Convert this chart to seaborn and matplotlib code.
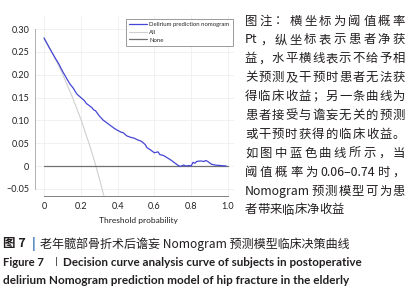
import re
import matplotlib
matplotlib.use("Agg")
import matplotlib.pyplot as plt
import pandas as pd
import seaborn as sns

# ---- data ----
thr_model = [0.00, 0.03, 0.06, 0.08, 0.10, 0.12, 0.14, 0.16, 0.17, 0.18, 0.20, 0.22,
             0.23, 0.25, 0.26, 0.27, 0.28, 0.30, 0.32, 0.34, 0.36, 0.38, 0.40, 0.42,
             0.43, 0.45, 0.47, 0.49, 0.51, 0.53, 0.55, 0.56, 0.58, 0.60, 0.62, 0.63,
             0.65, 0.67, 0.69, 0.71, 0.73, 0.74, 0.76, 0.77, 0.79, 0.80, 0.81, 0.82,
             0.83, 0.85, 0.87, 0.88, 0.89, 0.90, 0.91, 0.93, 0.96, 0.99]
nb_model = [0.280, 0.258, 0.237, 0.224, 0.208, 0.194, 0.180, 0.170, 0.163, 0.157, 0.150, 0.143,
            0.137, 0.131, 0.128, 0.123, 0.121, 0.110, 0.101, 0.095, 0.089, 0.083, 0.078, 0.074,
            0.073, 0.066, 0.063, 0.061, 0.057, 0.054, 0.047, 0.040, 0.035, 0.029, 0.031, 0.025,
            0.023, 0.018, 0.013, 0.007, 0.001, -0.001, 0.002, 0.000, 0.001, 0.000, 0.008, 0.006,
            0.010, 0.011, 0.010, 0.012, 0.010, 0.007, 0.004, 0.002, 0.001, 0.000]

thr_all = [0.00, 0.05, 0.10, 0.15, 0.20, 0.25, 0.28, 0.30, 0.33, 0.35]
nb_all = [0.282, 0.244, 0.202, 0.155, 0.103, 0.043, 0.003, -0.026, -0.072, -0.105]

thr_none = [0.0, 1.0]
nb_none = [0.0, 0.0]

series_names = ["Delirium prediction nomogram", "All", "None"]
series_colors = {"Delirium prediction nomogram": "#4646d6", "All": "#cfcfcf", "None": "#707070"}

x_ticks = [0, 0.2, 0.4, 0.6, 0.8, 1.0]
x_ticklabels = ["0", "0.2", "0.4", "0.6", "0.8", "1.0"]
y_ticks = [-0.05, 0, 0.05, 0.10, 0.15, 0.20, 0.25, 0.30]
y_ticklabels = ["\u22120.05", "0", "0.05", "0.10", "0.15", "0.20", "0.25", "0.30"]

note_lines = [
    "图注：横坐标为阈值概率",
    "Pt，纵坐标表示患者净获",
    "益，水平横线表示不给予相",
    "关预测及干预时患者无法获",
    "得临床收益；另一条曲线为",
    "患者接受与谵妄无关的预测",
    "或干预时获得的临床收益。",
    "如图中蓝色曲线所示，当",
    "阈值概率为 0.06–0.74 时，",
    "Nomogram 预测模型可为患",
    "者带来临床净收益",
]
cap_cn = "老年髋部骨折术后谵妄 Nomogram 预测模型临床决策曲线"
cap_en1 = "Decision curve analysis curve of subjects in postoperative"
cap_en2 = "delirium Nomogram prediction model of hip fracture in the elderly"

# ---- style ----
sns.set_style("white")
plt.rcParams["font.family"] = ["Lato", "DejaVu Sans"]
CN = ["Noto Sans CJK SC", "DejaVu Sans"]
INK = "#231f20"

W, H = 410, 300
fig = plt.figure(figsize=(W / 100, H / 100), dpi=100)
ax = fig.add_axes([35 / W, 1 - 196 / H, (234 - 35) / W, (196 - 15) / H])

df = pd.concat([
    pd.DataFrame({"threshold": thr_all, "net_benefit": nb_all, "model": "All"}),
    pd.DataFrame({"threshold": thr_none, "net_benefit": nb_none, "model": "None"}),
    pd.DataFrame({"threshold": thr_model, "net_benefit": nb_model, "model": "Delirium prediction nomogram"}),
])
for name, lw in [("All", 0.8), ("None", 0.9), ("Delirium prediction nomogram", 0.9)]:
    sub = df[df["model"] == name]
    sns.lineplot(data=sub, x="threshold", y="net_benefit", color=series_colors[name],
                 lw=lw, label=name, estimator=None, sort=False, ax=ax)

ax.set_xlim(-0.049, 1.033)
ax.set_ylim(-0.0657, 0.3307)
ax.set_xticks(x_ticks)
ax.set_xticklabels(x_ticklabels)
ax.set_yticks(y_ticks)
ax.set_yticklabels(y_ticklabels)
ax.set_xlabel("")
ax.set_ylabel("")
ax.grid(True, color="#efefef", lw=0.6)
ax.set_axisbelow(True)

for s in ["top", "right"]:
    ax.spines[s].set_visible(False)
ax.spines["left"].set_bounds(-0.05, 0.30)
ax.spines["left"].set_color("#b0b0b0")
ax.spines["left"].set_linewidth(0.7)
ax.spines["bottom"].set_bounds(0, 1.0)
ax.spines["bottom"].set_color("#808080")
ax.spines["bottom"].set_linewidth(0.7)
ax.tick_params(axis="y", direction="out", length=2.5, width=0.6, color="#909090",
               labelsize=6.5, pad=1.5, labelcolor=INK)
ax.tick_params(axis="x", direction="in", length=2.5, width=0.6, color="#808080",
               labelsize=6.5, pad=4, labelcolor=INK)

handles, labels = ax.get_legend_handles_labels()
order = [labels.index(n) for n in series_names]
leg = ax.legend([handles[i] for i in order], series_names, loc="upper right",
                bbox_to_anchor=(0.995, 0.98), fontsize=4.3, frameon=True, fancybox=False,
                handlelength=3.0, handletextpad=0.3, labelspacing=0.4,
                borderpad=0.6, borderaxespad=0.0)
leg.get_frame().set_edgecolor("#8a8a8a")
leg.get_frame().set_linewidth(0.6)
leg.get_frame().set_alpha(1)

fig.text(138 / W, 1 - 220 / H, "Threshold probability", ha="center", va="center",
         fontsize=6, color=INK)

renderer = fig.canvas.get_renderer()


def width_px(s, **kw):
    t = fig.text(0, 0, s, **kw)
    w = t.get_window_extent(renderer=renderer).width
    t.remove()
    return w


def fit_text(x0, x1, y, s, size=8, **kw):
    w = width_px(s, fontsize=size, **kw)
    fig.text(x0 / W, 1 - y / H, s, fontsize=size * (x1 - x0) / w, va="center", ha="left", **kw)


# right-hand note, justified between x=245 and x=405
note_size = 8.9
for i, line in enumerate(note_lines):
    y = 21 + i * 18.9
    tokens = re.findall(r"[A-Za-z0-9.–]+|\S", line)
    widths = [width_px(t, fontsize=note_size, family=CN) for t in tokens]
    if i == len(note_lines) - 1:
        gap = 0.0
    else:
        gap = (405 - 245 - sum(widths)) / (len(tokens) - 1)
    x = 245
    for t, w in zip(tokens, widths):
        fig.text(x / W, 1 - y / H, t, fontsize=note_size, family=CN, color=INK,
                 ha="left", va="center")
        x += w + gap

# captions
fig.text(3 / W, 1 - 244 / H, "图 7", fontsize=9, family=CN, weight="bold", color=INK,
         ha="left", va="center")
fig.text(32 / W, 1 - 244 / H, "|", fontsize=9, family=CN, weight="bold", color="#2f6db5",
         ha="left", va="center")
fit_text(40, 350, 244, cap_cn, family=CN, color=INK)

fit_text(3, 44, 262, "Figure 7", weight="bold", color=INK)
fig.text(55 / W, 1 - 262 / H, "|", fontsize=7.5, color=INK, ha="left", va="center")
fit_text(63, 363, 262, cap_en1, weight="bold", color=INK)
fit_text(3, 352, 281, cap_en2, weight="bold", color=INK)

fig.savefig("out.png", dpi=100, facecolor="white")
